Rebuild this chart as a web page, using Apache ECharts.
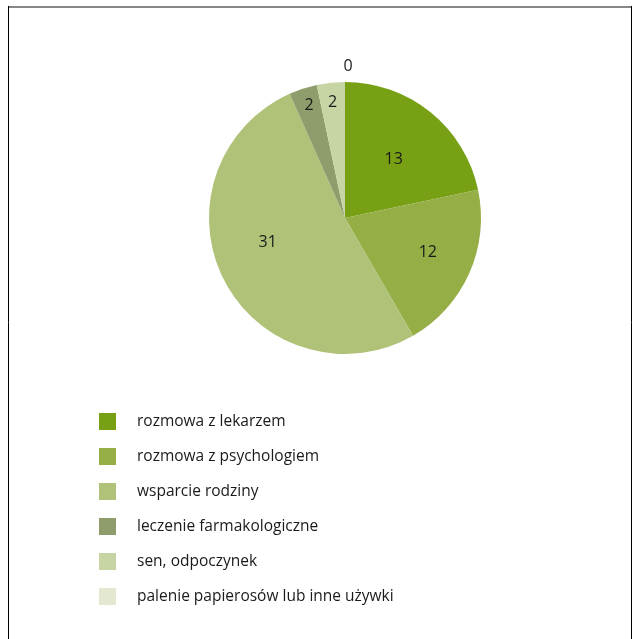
<!DOCTYPE html>
<html>
<head>
<meta charset="utf-8">
<script src="https://cdn.jsdelivr.net/npm/echarts@6/dist/echarts.min.js"></script>
<style>
html,body{margin:0;padding:0;background:#fff;}
#c{width:632px;height:639px;}
</style>
</head>
<body>
<div id="c"></div>
<script>
const categories = [
  'rozmowa z lekarzem',
  'rozmowa z psychologiem',
  'wsparcie rodziny',
  'leczenie farmakologiczne',
  'sen, odpoczynek',
  'palenie papierosów lub inne używki'
];
const values = [13, 12, 31, 2, 2, 0];
const colors = ['#78a015', '#95ae45', '#b0c278', '#8f9c6b', '#c7d5a4', '#e2e9d0'];
const labelOffsets = [[4, -3], [18, 6], [-14, -8], [-14, -45], [-5, -45], [3, -81]];

const chart = echarts.init(document.getElementById('c'), null, {renderer: 'canvas'});
const FONT = '"Open Sans", "Noto Sans", sans-serif';

chart.setOption({
  backgroundColor: '#ffffff',
  animation: false,
  color: colors,
  graphic: [
    {type: 'line', shape: {x1: 8, y1: 7, x2: 632, y2: 7}, style: {stroke: '#878787', lineWidth: 2}},
    {type: 'line', shape: {x1: 8.5, y1: 6, x2: 8.5, y2: 639}, style: {stroke: '#000', lineWidth: 1}},
    {type: 'line', shape: {x1: 631.5, y1: 6, x2: 631.5, y2: 639}, style: {stroke: '#000', lineWidth: 1}}
  ],
  legend: {
    orient: 'vertical',
    left: 99,
    top: 413,
    padding: 0,
    itemWidth: 17,
    itemHeight: 17,
    itemGap: 18,
    icon: 'rect',
    data: categories,
    textStyle: {
      fontFamily: FONT,
      fontSize: 15.5,
      color: '#1a1a1a',
      lineHeight: 17,
      padding: [0, 0, 0, 16]
    },
    selectedMode: false
  },
  series: [{
    type: 'pie',
    center: [345, 218],
    radius: 136,
    startAngle: 90,
    clockwise: true,
    minAngle: 0,
    avoidLabelOverlap: false,
    stillShowZeroSum: true,
    itemStyle: {borderWidth: 0},
    emphasis: {disabled: true},
    label: {
      show: true,
      position: 'inside',
      formatter: '{c}',
      fontFamily: FONT,
      fontSize: 16,
      color: '#1a1a1a'
    },
    labelLine: {show: false},
    data: categories.map((name, i) => ({
      name: name,
      value: values[i],
      label: {offset: labelOffsets[i]}
    }))
  }]
});
</script>
</body>
</html>
